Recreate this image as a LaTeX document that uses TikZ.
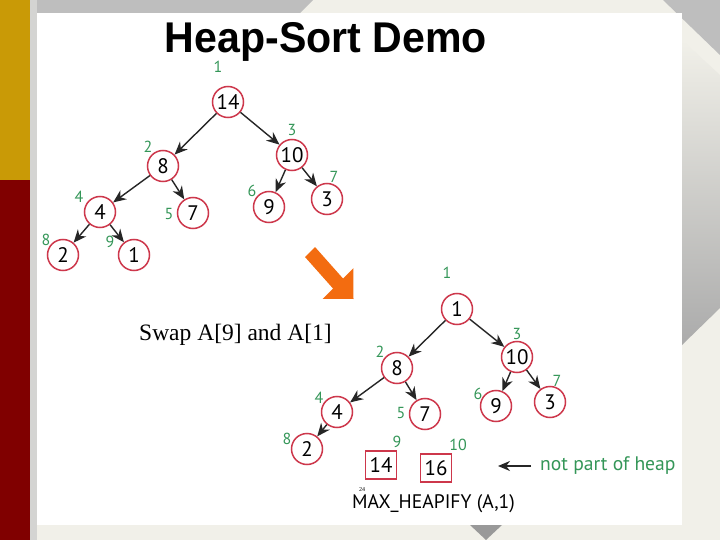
\documentclass[tikz,border=0pt]{standalone}
\usepackage{fontspec}
\setmainfont{Liberation Serif}
\newfontfamily\figfont{PT Sans}
\newfontfamily\ttlfont{Liberation Sans}
\usepackage{xcolor}
\usepackage{tikz}
\usetikzlibrary{arrows.meta,positioning}
\definecolor{heapred}{RGB}{205,55,75}
\definecolor{idxgreen}{RGB}{52,150,88}
\definecolor{bgcream}{RGB}{241,240,233}
\definecolor{bggray}{RGB}{190,190,190}
\definecolor{stripgray}{RGB}{212,212,210}
\definecolor{barGold}{RGB}{201,154,6}
\definecolor{barRed}{RGB}{128,0,0}
\definecolor{swaporange}{RGB}{243,108,16}
\tikzset{
  hnode/.style  = {circle, draw=heapred, line width=1.5pt, fill=white, minimum size=31pt,
                   inner sep=0pt, font=\figfont\fontsize{21}{21}\selectfont},
  hbox/.style   = {rectangle, draw=heapred, line width=1.4pt, fill=white, minimum width=31pt,
                   minimum height=28pt, inner sep=0pt, font=\figfont\fontsize{21}{21}\selectfont},
  idx/.style    = {text=idxgreen, inner sep=0pt, font=\figfont\fontsize{16}{16}\selectfont},
  hedge/.style  = {-{Stealth[length=13pt,width=11pt]}, line width=1.4pt, black!85},
  notearr/.style= {-{Stealth[length=12pt,width=10pt]}, line width=1.6pt, black!85},
}

\begin{document}
\begin{tikzpicture}[x=1pt,y=-1pt]
  \useasboundingbox (0,0) rectangle (720,540);
  % slide background
  \fill[bgcream] (0,0) rectangle (720,540);
  \fill[bggray] (30,0) -- (313,0) -- (300,13) -- (30,13) -- cycle;
  \fill[bggray] (663,0) -- (720,0) -- (720,55) -- cycle;
  \shade[top color=bgcream, bottom color=black!33] (682,40) -- (720,75) -- (720,308) -- (682,345) -- cycle;
  \fill[stripgray] (30,0) rectangle (37,540);
  \fill[barGold] (0,0) rectangle (30,180);
  \fill[barRed] (0,180) rectangle (30,540);
  \fill[white] (37,13) rectangle (682,525);
  \fill[black!40] (470,525) -- (502,525) -- (486,540) -- cycle;

  \node[anchor=base, font=\ttlfont\bfseries\fontsize{43}{43}\selectfont, xscale=0.956] (title) at (326,53) {Heap-Sort Demo};

  % heap before the swap
  \node[hnode] (a14) at (228,102) {14};
  \node[hnode] (a8)  at (163,166) {8};
  \node[hnode] (a10) at (292,155) {10};
  \node[hnode] (a4)  at (100,212) {4};
  \node[hnode] (a7)  at (193,213) {7};
  \node[hnode] (a9)  at (269,207) {9};
  \node[hnode] (a3)  at (327,199) {3};
  \node[hnode] (a2)  at (63,255)  {2};
  \node[hnode] (a1)  at (134,255) {1};
  \node[idx] (ia1) at (218,67)  {1};
  \node[idx] (ia2) at (148,147) {2};
  \node[idx] (ia3) at (292,130) {3};
  \node[idx] (ia4) at (79,197)  {4};
  \node[idx] (ia5) at (169,214) {5};
  \node[idx] (ia6) at (252,191) {6};
  \node[idx] (ia7) at (334,177) {7};
  \node[idx] (ia8) at (46,240)  {8};
  \node[idx] (ia9) at (110,242) {9};
  \draw[hedge] (a14) -- (a8);
  \draw[hedge] (a14) -- (a10);
  \draw[hedge] (a8) -- (a4);
  \draw[hedge] (a8) -- (a7);
  \draw[hedge] (a10) -- (a9);
  \draw[hedge] (a10) -- (a3);
  \draw[hedge] (a4) -- (a2);
  \draw[hedge] (a4) -- (a1);

  % orange block arrow
  \fill[swaporange] (315,247) -- (343,278.5) -- (353.3,268.2) -- (353.5,299)
    -- (322.7,298.8) -- (333,288.5) -- (305,257) -- cycle;

  \node[anchor=base west, inner sep=0pt, font=\fontsize{23.5}{24}\selectfont] (swap) at (139,340) {Swap A[9] and A[1]};

  % heap after the swap
  \node[hnode] (b1)  at (457,309) {1};
  \node[hnode] (b8)  at (397,368) {8};
  \node[hnode] (b10) at (517,357) {10};
  \node[hnode] (b4)  at (337,412) {4};
  \node[hnode] (b7)  at (425,414) {7};
  \node[hnode] (b9)  at (496,406) {9};
  \node[hnode] (b3)  at (550,402) {3};
  \node[hnode] (b2)  at (307,449) {2};
  \node[hbox]  (b14) at (381,465) {14};
  \node[hbox]  (b16) at (436,468) {16};
  \node[idx] (ib1)  at (447,273) {1};
  \node[idx] (ib2)  at (380,352) {2};
  \node[idx] (ib3)  at (517,334) {3};
  \node[idx] (ib4)  at (319,398) {4};
  \node[idx] (ib5)  at (401,413) {5};
  \node[idx] (ib6)  at (478,394) {6};
  \node[idx] (ib7)  at (557,381) {7};
  \node[idx] (ib8)  at (287,439) {8};
  \node[idx] (ib9)  at (397,442) {9};
  \node[idx] (ib10) at (458,445) {10};
  \draw[hedge] (b1) -- (b8);
  \draw[hedge] (b1) -- (b10);
  \draw[hedge] (b8) -- (b4);
  \draw[hedge] (b8) -- (b7);
  \draw[hedge] (b10) -- (b9);
  \draw[hedge] (b10) -- (b3);
  \draw[hedge] (b4) -- (b2);

  \node[anchor=west, inner sep=0pt, text=idxgreen, font=\figfont\fontsize{19.6}{20}\selectfont] (note) at (540,466) {not part of heap};
  \coordinate (noteend) at (498,466);
  \draw[notearr] ([xshift=-9pt]note.west) -- (noteend);

  \node[font=\figfont\fontsize{19.6}{20}\selectfont, inner sep=0pt] (heapify) at (433.5,504) {MAX\_HEAPIFY (A,1)};
  \node[font=\fontsize{6}{6}\selectfont, inner sep=0pt] (pgnum) at (362,490) {24};
\end{tikzpicture}
\end{document}
